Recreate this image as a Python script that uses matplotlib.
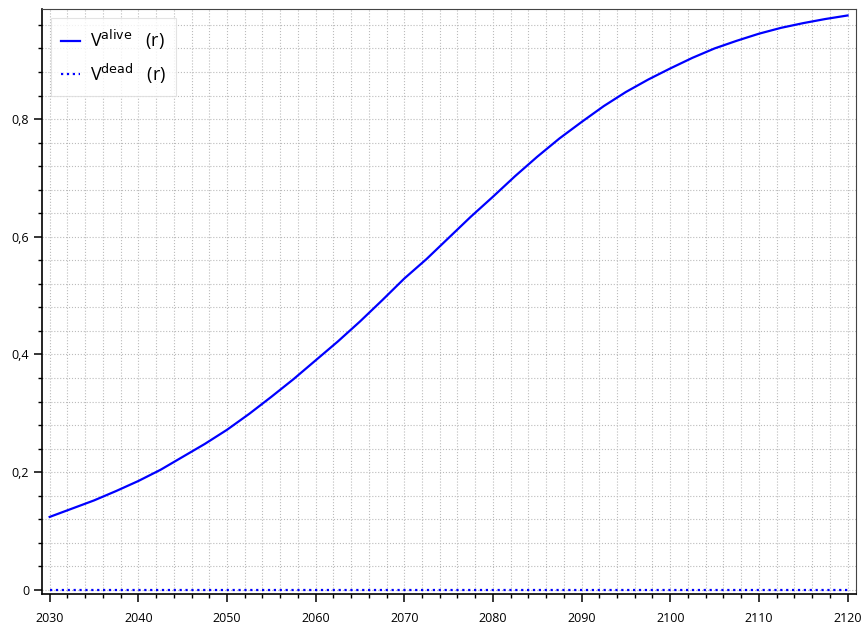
import matplotlib
matplotlib.use("Agg")
import matplotlib.pyplot as plt
from matplotlib.ticker import MultipleLocator, FuncFormatter

years = [2030, 2032.5, 2035, 2037.5, 2040, 2042.5, 2045, 2047.5, 2050, 2052.5,
         2055, 2057.5, 2060, 2062.5, 2065, 2067.5, 2070, 2072.5, 2075, 2077.5,
         2080, 2082.5, 2085, 2087.5, 2090, 2092.5, 2095, 2097.5, 2100, 2102.5,
         2105, 2107.5, 2110, 2112.5, 2115, 2117.5, 2120]
v_alive = [0.124, 0.138, 0.152, 0.168, 0.185, 0.204, 0.226, 0.248, 0.272, 0.299,
           0.328, 0.358, 0.390, 0.422, 0.456, 0.492, 0.529, 0.562, 0.598, 0.634,
           0.668, 0.703, 0.736, 0.767, 0.795, 0.822, 0.846, 0.867, 0.886, 0.904,
           0.920, 0.933, 0.945, 0.955, 0.963, 0.970, 0.976]
v_dead = [0.0] * len(years)

plt.rcParams['font.family'] = ['Open Sans', 'DejaVu Sans']
plt.rcParams['mathtext.default'] = 'regular'

fig = plt.figure(figsize=(8.63, 6.26), dpi=100)
ax = fig.add_axes([41.7/863, (626-594.3)/626, (855.5-41.7)/863, (594.3-9.3)/626])

ax.plot(years, v_alive, color='blue', lw=1.6, label=r'V$^{\rm alive}$   (r)')
ax.plot(years, v_dead, color='blue', lw=1.6, ls=':', label=r'V$^{\rm dead}$   (r)')

ax.set_xlim(2029.1, 2120.9)
ax.set_ylim(-0.0075, 0.9865)
ax.xaxis.set_major_locator(MultipleLocator(10))
ax.xaxis.set_minor_locator(MultipleLocator(2))
ax.yaxis.set_major_locator(MultipleLocator(0.2))
ax.yaxis.set_minor_locator(MultipleLocator(0.04))

def yfmt(v, pos):
    if abs(v) < 1e-9:
        return '0'
    return ('%.1f' % v).replace('.', ',')
ax.yaxis.set_major_formatter(FuncFormatter(yfmt))

ax.grid(which='both', color='#bbbbbb', ls=':', lw=0.8)
ax.set_axisbelow(True)
ax.tick_params(which='major', length=6, width=1.1, labelsize=9)
ax.tick_params(which='minor', length=3, width=1)
ax.tick_params(axis='x', which='major', pad=7)
ax.tick_params(axis='y', which='major', pad=3)
for s in ['left', 'bottom']:
    ax.spines[s].set_linewidth(1.2)
for s in ['top', 'right']:
    ax.spines[s].set_color('#444444')

leg = ax.legend(loc='upper left', fontsize=13, frameon=True, fancybox=False,
                edgecolor='#dddddd', handlelength=1.05, handletextpad=0.55,
                borderpad=0.55, borderaxespad=0.5)
leg.get_frame().set_linewidth(0.8)

fig.savefig('out.png', dpi=100)
